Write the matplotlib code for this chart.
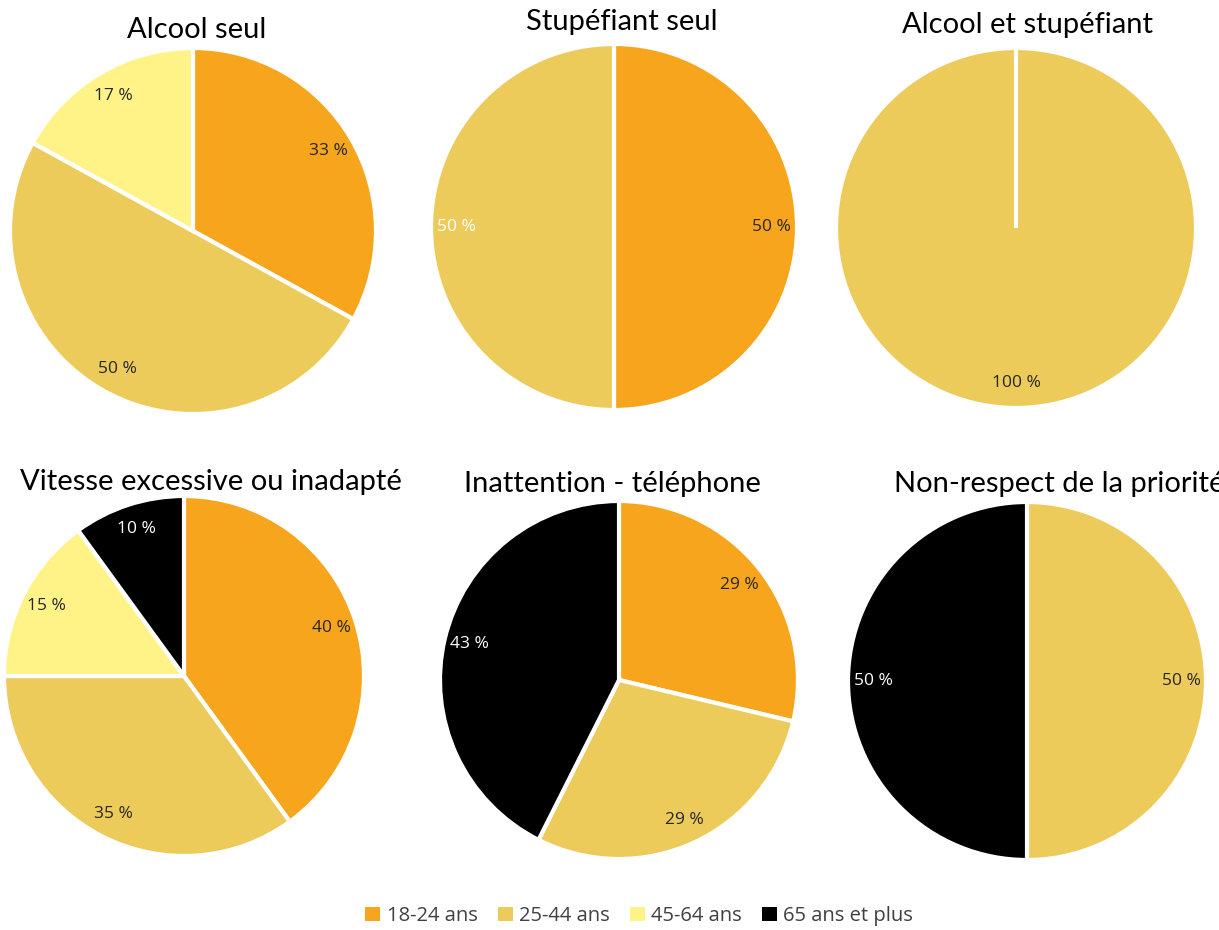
import matplotlib
matplotlib.use("Agg")
import numpy as np
import matplotlib.pyplot as plt
from matplotlib.patches import Patch
from matplotlib.transforms import Bbox, TransformedBbox

# age groups and colours
groups = ["18-24 ans", "25-44 ans", "45-64 ans", "65 ans et plus"]
colors = ["#F6A51D", "#EDCB5B", "#FFF388", "#000000"]

# share of each age group, in %, per cause
titles = ["Alcool seul", "Stupéfiant seul", "Alcool et stupéfiant",
          "Vitesse excessive ou inadaptée", "Inattention - téléphone",
          "Non-respect de la priorité"]
alcool_seul = [33, 50, 17, 0]
stup_seul = [50, 50, 0, 0]
alcool_stup = [0, 100, 0, 0]
vitesse = [40, 35, 15, 10]
inattention = [29, 29, 0, 43]
priorite = [0, 50, 0, 50]
series = [alcool_seul, stup_seul, alcool_stup, vitesse, inattention, priorite]

W, H = 1219, 930
fig = plt.figure(figsize=(W / 100, H / 100), dpi=100)
fig.patch.set_facecolor("white")

# layout in pixels: pie centre x, centre y, radius
pies = [(193, 231, 183), (614, 227, 183), (1016, 228, 180),
        (184, 676, 180), (619, 680, 179), (1027, 681, 179)]
# title centre / left positions (pixels)
title_pos = [(197, 30, "center"), (622, 22, "center"), (1028, 25, "center"),
             (20, 482, "left"), (612, 484, "center"), (894, 484, "left")]
# label colour for the "25-44" wedge on the Stupéfiant chart is white
white_label = {(1, 1)}

for i, vals in enumerate(series):
    cx, cy, r = pies[i]
    ax = fig.add_axes([(cx - r) / W, 1 - (cy + r) / H, 2 * r / W, 2 * r / H])
    idx = [k for k, v in enumerate(vals) if v > 0]
    v = [vals[k] for k in idx]
    c = [colors[k] for k in idx]
    wedges, texts, autotexts = ax.pie(
        v, colors=c, startangle=90, counterclock=False, radius=1,
        autopct=lambda p: f"{p:.0f} %", pctdistance=0.86,
        wedgeprops=dict(edgecolor="white", linewidth=3),
        textprops=dict(fontsize=12.5, family="Open Sans"))
    if len(wedges) == 1:
        # full circle: draw the start edge like the other pies
        w = wedges[0]
        a = np.deg2rad(w.theta1)
        ax.plot([w.center[0], w.center[0] + w.r * np.cos(a)],
                [w.center[1], w.center[1] + w.r * np.sin(a)],
                color="white", lw=3, solid_capstyle="butt")
    for k, t in zip(idx, autotexts):
        if colors[k] == "#000000" or (i, k) in white_label:
            t.set_color("white")
        else:
            t.set_color("#262626")
    ax.set_xlim(-1.0, 1.0)
    ax.set_ylim(-1.0, 1.0)
    ax.set_aspect("equal")
    ax.axis("off")

    tx, ty, ha = title_pos[i]
    t = fig.text(tx / W, 1 - ty / H, titles[i], ha=ha, va="center",
                 fontsize=21, family="Lato", color="black")
    if i == 3:
        t.set_clip_box(TransformedBbox(Bbox.from_extents(0, 0, 402 / W, 1), fig.transFigure))
        t.set_clip_on(True)

handles = [Patch(facecolor=col, edgecolor="none") for col in colors]
fig.legend(handles, groups, loc="center", bbox_to_anchor=(639 / W, 1 - 916 / H),
           ncol=4, frameon=False, handlelength=0.75, handleheight=0.75,
           handletextpad=0.3, columnspacing=1.0,
           prop=dict(family="Open Sans", size=14.5), labelcolor="#404040")

fig.savefig("out.png", dpi=100)
